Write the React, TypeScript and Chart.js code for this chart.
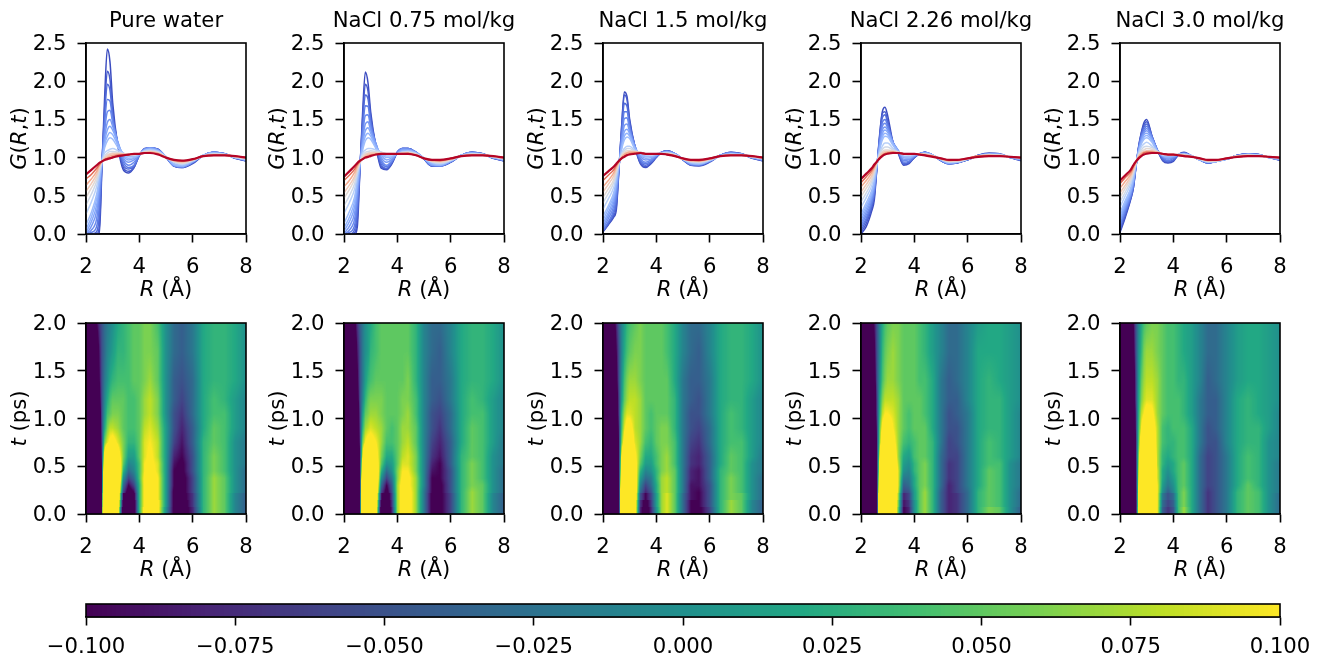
import React, { useEffect, useRef } from "react";
import { Chart, registerables } from "chart.js";

Chart.register(...registerables);

const FONT = '"DejaVu Sans"';
const FS = 21.2;

const panelTitles = ["Pure water", "NaCl 0.75 mol/kg", "NaCl 1.5 mol/kg", "NaCl 2.26 mol/kg", "NaCl 3.0 mol/kg"];
const rGrid = [2.0, 2.2, 2.4, 2.5, 2.6, 2.7, 2.8, 2.9, 3.0, 3.2, 3.4, 3.6, 3.8, 4.0, 4.2, 4.4, 4.7, 5.0, 5.3, 5.6, 6.0, 6.4, 6.8, 7.2, 7.6, 8.0];
const tGrid = [0, 0.075, 0.15, 0.225, 0.3, 0.375, 0.45, 0.525, 0.6, 0.75, 0.9, 1.05, 1.2, 1.4, 1.7, 2.0];
const rTicks = [2, 4, 6, 8];
const gTicks = [0, 0.5, 1, 1.5, 2, 2.5];
const tTicks = [0, 0.5, 1, 1.5, 2];
const barTicks = [-0.1, -0.075, -0.05, -0.025, 0, 0.025, 0.05, 0.075, 0.1];

// G(R,t): one row per time in tGrid, one column per distance in rGrid
const gWater = [
  [0,0,0,0,.9,1.8,2.42,2.25,1.72,1.14,.84,.8,.87,1.03,1.12,1.13,1.11,1,.89,.87,.92,1.03,1.07,1.05,.99,.96],
  [0,0,0,.1,.92,1.65,2.13,2.02,1.6,1.16,.87,.82,.87,1.03,1.11,1.13,1.11,1.01,.89,.87,.93,1.03,1.07,1.05,.99,.96],
  [0,0,.03,.25,.93,1.55,1.96,1.88,1.55,1.17,.9,.85,.89,1.03,1.11,1.13,1.1,1.01,.89,.88,.93,1.03,1.07,1.05,.99,.96],
  [0,.02,.1,.38,.93,1.45,1.76,1.74,1.5,1.18,.94,.87,.9,1.03,1.11,1.13,1.1,1.01,.89,.88,.94,1.03,1.07,1.05,1,.97],
  [0,.05,.2,.5,.94,1.35,1.6,1.62,1.46,1.19,.97,.9,.94,1.03,1.11,1.13,1.1,1.01,.9,.88,.94,1.03,1.07,1.05,1,.97],
  [0,.1,.3,.58,.94,1.27,1.46,1.5,1.41,1.2,1,.94,.97,1.04,1.11,1.13,1.1,1.01,.9,.88,.94,1.03,1.07,1.05,1,.97],
  [.02,.16,.38,.64,.95,1.21,1.36,1.41,1.36,1.19,1.03,.97,.99,1.04,1.1,1.12,1.09,1.01,.9,.89,.95,1.03,1.06,1.04,1,.97],
  [.06,.22,.46,.69,.95,1.17,1.28,1.33,1.3,1.16,1.05,.99,1,1.04,1.1,1.11,1.09,1.01,.91,.89,.95,1.03,1.06,1.04,1,.98],
  [.12,.28,.52,.73,.95,1.13,1.22,1.26,1.24,1.13,1.06,1.01,1.01,1.05,1.09,1.11,1.08,1.01,.92,.9,.95,1.03,1.06,1.04,1,.98],
  [.26,.42,.62,.79,.95,1.06,1.09,1.11,1.12,1.09,1.06,1.03,1.03,1.05,1.09,1.1,1.08,1.01,.94,.91,.96,1.03,1.05,1.04,1,.98],
  [.38,.52,.69,.83,.95,1.02,1.06,1.08,1.08,1.07,1.05,1.04,1.04,1.05,1.08,1.09,1.07,1.01,.95,.92,.96,1.02,1.05,1.04,1.01,.99],
  [.48,.6,.74,.86,.95,1,1.04,1.05,1.06,1.06,1.05,1.04,1.04,1.05,1.07,1.08,1.06,1,.95,.93,.97,1.02,1.04,1.04,1.01,.99],
  [.56,.66,.78,.88,.95,.99,1.02,1.04,1.05,1.05,1.05,1.04,1.04,1.05,1.07,1.08,1.06,1,.96,.94,.97,1.02,1.04,1.03,1.01,.99],
  [.64,.72,.82,.9,.95,.98,1,1.02,1.03,1.04,1.04,1.04,1.05,1.05,1.06,1.07,1.05,1,.96,.95,.97,1.02,1.03,1.03,1.02,1],
  [.72,.78,.86,.91,.95,.97,.99,1,1.01,1.03,1.03,1.04,1.05,1.05,1.06,1.06,1.05,1,.97,.96,.98,1.02,1.03,1.03,1.02,1],
  [.78,.84,.9,.93,.95,.97,.98,.99,1,1.02,1.03,1.04,1.05,1.05,1.06,1.06,1.04,1,.97,.96,.98,1.02,1.03,1.03,1.02,1],
];
const gNaCl075 = [
  [0,0,0,.1,.85,1.6,2.12,1.98,1.6,1.14,.86,.84,.92,1.07,1.12,1.12,1.07,.98,.89,.89,.94,1.03,1.07,1.05,.99,.96],
  [0,0,.02,.2,.87,1.52,1.96,1.87,1.54,1.15,.88,.85,.93,1.07,1.12,1.12,1.07,.98,.89,.89,.94,1.03,1.07,1.05,.99,.96],
  [0,0,.06,.3,.88,1.44,1.82,1.77,1.49,1.16,.91,.86,.94,1.07,1.12,1.12,1.07,.98,.89,.89,.94,1.03,1.07,1.05,.99,.96],
  [0,.02,.12,.4,.89,1.36,1.68,1.67,1.44,1.17,.94,.88,.95,1.07,1.12,1.12,1.07,.98,.9,.89,.95,1.03,1.07,1.05,1,.97],
  [0,.05,.2,.48,.9,1.29,1.55,1.56,1.4,1.18,.97,.9,.96,1.07,1.12,1.11,1.07,.99,.9,.89,.95,1.03,1.06,1.05,1,.97],
  [.01,.1,.28,.56,.91,1.23,1.44,1.47,1.36,1.18,1,.94,.98,1.06,1.11,1.11,1.07,.99,.9,.9,.95,1.03,1.06,1.04,1,.97],
  [.04,.16,.36,.62,.92,1.18,1.35,1.39,1.32,1.16,1.03,.97,1,1.06,1.1,1.1,1.06,.99,.91,.9,.95,1.03,1.06,1.04,1,.97],
  [.08,.22,.43,.67,.93,1.14,1.28,1.32,1.28,1.14,1.05,1,1.01,1.05,1.09,1.09,1.06,.99,.92,.9,.96,1.03,1.06,1.04,1,.98],
  [.14,.29,.49,.71,.93,1.1,1.22,1.26,1.24,1.12,1.06,1.02,1.02,1.05,1.08,1.09,1.06,.99,.93,.91,.96,1.03,1.05,1.04,1,.98],
  [.27,.41,.59,.77,.94,1.06,1.1,1.12,1.12,1.1,1.07,1.04,1.04,1.05,1.07,1.08,1.05,.99,.94,.92,.96,1.02,1.05,1.04,1.01,.98],
  [.37,.5,.66,.81,.94,1.03,1.07,1.08,1.09,1.08,1.07,1.05,1.04,1.05,1.07,1.07,1.05,.99,.95,.93,.97,1.02,1.05,1.04,1.01,.99],
  [.47,.58,.72,.84,.94,1.01,1.05,1.06,1.07,1.07,1.06,1.05,1.05,1.05,1.06,1.07,1.04,.99,.95,.94,.97,1.02,1.04,1.04,1.01,.99],
  [.54,.64,.76,.87,.95,.99,1.03,1.05,1.06,1.06,1.06,1.05,1.05,1.05,1.06,1.06,1.04,.99,.96,.95,.98,1.02,1.04,1.03,1.01,.99],
  [.62,.7,.81,.89,.95,.98,1.01,1.03,1.04,1.05,1.05,1.05,1.05,1.05,1.05,1.06,1.03,.99,.96,.96,.98,1.02,1.03,1.03,1.02,1],
  [.7,.77,.85,.91,.95,.98,1,1.01,1.03,1.04,1.05,1.05,1.05,1.05,1.05,1.05,1.03,.99,.97,.96,.99,1.02,1.03,1.03,1.02,1],
  [.75,.82,.89,.93,.96,.98,1,1.01,1.02,1.04,1.05,1.05,1.05,1.05,1.05,1.05,1.03,.99,.97,.97,.99,1.02,1.03,1.03,1.02,1],
];
const gNaCl15 = [
  [.03,.12,.22,.32,.85,1.42,1.86,1.8,1.5,1.14,.92,.87,.92,1,1.07,1.09,1.05,.97,.9,.89,.94,1.03,1.07,1.05,.99,.96],
  [.03,.13,.24,.36,.86,1.4,1.82,1.76,1.47,1.14,.93,.88,.93,1.01,1.07,1.09,1.05,.97,.9,.9,.95,1.03,1.07,1.05,.99,.96],
  [.04,.14,.27,.42,.87,1.34,1.71,1.67,1.43,1.15,.95,.9,.94,1.01,1.07,1.09,1.05,.97,.91,.9,.95,1.03,1.06,1.05,1,.97],
  [.05,.16,.31,.48,.88,1.29,1.6,1.6,1.4,1.15,.97,.92,.95,1.02,1.07,1.08,1.05,.98,.91,.9,.95,1.03,1.06,1.04,1,.97],
  [.07,.2,.36,.54,.89,1.24,1.51,1.52,1.37,1.15,.99,.94,.97,1.02,1.07,1.08,1.05,.98,.91,.91,.95,1.03,1.06,1.04,1,.97],
  [.1,.24,.41,.59,.9,1.2,1.42,1.44,1.34,1.14,1.01,.97,.98,1.03,1.07,1.08,1.05,.98,.92,.91,.96,1.03,1.06,1.04,1,.97],
  [.14,.28,.46,.64,.91,1.16,1.34,1.37,1.31,1.13,1.03,.99,1,1.03,1.06,1.07,1.05,.98,.92,.91,.96,1.03,1.05,1.04,1,.98],
  [.18,.33,.5,.68,.92,1.13,1.28,1.32,1.28,1.12,1.05,1.01,1.01,1.04,1.06,1.07,1.04,.98,.93,.92,.96,1.02,1.05,1.04,1,.98],
  [.23,.37,.54,.71,.92,1.11,1.23,1.27,1.25,1.11,1.06,1.02,1.02,1.04,1.06,1.07,1.04,.98,.93,.92,.96,1.02,1.05,1.04,1.01,.98],
  [.33,.46,.61,.76,.93,1.06,1.12,1.15,1.15,1.09,1.07,1.04,1.03,1.05,1.06,1.06,1.04,.98,.94,.93,.97,1.02,1.04,1.04,1.01,.99],
  [.41,.53,.67,.8,.93,1.04,1.09,1.12,1.12,1.08,1.07,1.05,1.04,1.05,1.06,1.06,1.03,.98,.95,.94,.97,1.02,1.04,1.03,1.01,.99],
  [.48,.59,.71,.83,.94,1.03,1.07,1.09,1.09,1.08,1.07,1.05,1.04,1.05,1.05,1.05,1.03,.98,.95,.95,.98,1.02,1.04,1.03,1.01,.99],
  [.55,.65,.76,.86,.94,1.01,1.05,1.07,1.08,1.08,1.07,1.05,1.05,1.05,1.05,1.05,1.03,.98,.96,.95,.98,1.02,1.03,1.03,1.01,.99],
  [.62,.7,.8,.88,.95,1,1.04,1.06,1.07,1.07,1.06,1.05,1.05,1.05,1.05,1.05,1.02,.98,.96,.96,.98,1.02,1.03,1.03,1.02,1],
  [.7,.77,.84,.9,.95,.99,1.02,1.04,1.05,1.06,1.06,1.05,1.05,1.05,1.05,1.04,1.02,.99,.97,.96,.99,1.02,1.03,1.03,1.02,1],
  [.76,.82,.88,.92,.96,.99,1.01,1.03,1.04,1.05,1.06,1.05,1.05,1.05,1.05,1.04,1.02,.99,.97,.97,.99,1.02,1.03,1.03,1.02,1],
];
const gNaCl226 = [
  [0,.1,.3,.45,.88,1.3,1.6,1.66,1.55,1.2,1.05,.9,.92,1,1.05,1.07,1.03,.96,.92,.93,.97,1.03,1.06,1.05,1,.96],
  [.02,.14,.34,.5,.88,1.28,1.58,1.6,1.48,1.2,1.06,.91,.93,1,1.05,1.07,1.03,.96,.92,.93,.97,1.03,1.05,1.04,1,.97],
  [.05,.18,.37,.53,.89,1.26,1.52,1.56,1.45,1.2,1.07,.92,.94,1.01,1.05,1.07,1.03,.96,.92,.93,.97,1.03,1.05,1.04,1,.97],
  [.08,.21,.4,.56,.9,1.23,1.46,1.5,1.42,1.2,1.08,.94,.95,1.01,1.05,1.07,1.03,.96,.92,.94,.97,1.03,1.05,1.04,1,.97],
  [.11,.25,.43,.59,.9,1.2,1.41,1.45,1.39,1.2,1.09,.96,.97,1.02,1.05,1.06,1.03,.97,.92,.94,.98,1.02,1.05,1.04,1,.98],
  [.14,.29,.47,.62,.91,1.17,1.36,1.4,1.36,1.2,1.09,.98,.98,1.02,1.05,1.06,1.03,.97,.93,.94,.98,1.02,1.05,1.04,1,.98],
  [.18,.33,.5,.65,.91,1.14,1.31,1.36,1.33,1.19,1.09,1,.99,1.03,1.05,1.06,1.03,.97,.93,.94,.98,1.02,1.05,1.04,1,.98],
  [.22,.37,.53,.68,.92,1.12,1.27,1.32,1.3,1.18,1.08,1.01,1,1.03,1.05,1.06,1.03,.97,.93,.94,.98,1.02,1.04,1.04,1,.98],
  [.26,.41,.57,.71,.92,1.1,1.23,1.28,1.27,1.16,1.07,1.02,1.01,1.04,1.05,1.05,1.03,.97,.94,.94,.98,1.02,1.04,1.03,1.01,.99],
  [.35,.48,.63,.76,.93,1.06,1.15,1.19,1.19,1.12,1.07,1.04,1.03,1.04,1.05,1.05,1.03,.98,.94,.95,.98,1.02,1.04,1.03,1.01,.99],
  [.42,.54,.68,.8,.93,1.05,1.11,1.14,1.14,1.1,1.07,1.05,1.04,1.05,1.05,1.05,1.02,.98,.95,.95,.98,1.02,1.03,1.03,1.01,.99],
  [.49,.6,.72,.83,.94,1.03,1.08,1.1,1.1,1.09,1.07,1.05,1.04,1.05,1.05,1.04,1.02,.98,.95,.96,.98,1.02,1.03,1.03,1.01,.99],
  [.55,.65,.76,.85,.94,1.02,1.06,1.08,1.08,1.08,1.07,1.05,1.05,1.05,1.05,1.04,1.02,.98,.96,.96,.99,1.02,1.03,1.03,1.01,1],
  [.62,.7,.8,.87,.95,1,1.04,1.06,1.07,1.07,1.06,1.05,1.05,1.05,1.04,1.04,1.02,.98,.96,.97,.99,1.02,1.03,1.02,1.01,1],
  [.67,.75,.83,.89,.95,.99,1.03,1.05,1.06,1.07,1.06,1.05,1.05,1.05,1.04,1.03,1.01,.99,.97,.97,.99,1.02,1.02,1.02,1.01,1],
  [.72,.79,.86,.91,.95,.99,1.02,1.04,1.05,1.06,1.06,1.05,1.05,1.05,1.04,1.03,1.01,.99,.97,.97,.99,1.01,1.02,1.02,1.01,1],
];
const gNaCl30 = [
  [.02,.22,.45,.6,.88,1.15,1.33,1.46,1.5,1.28,1.1,.96,.93,.95,1.04,1.07,1.02,.97,.93,.95,.98,1.03,1.05,1.04,1,.97],
  [.04,.24,.46,.6,.88,1.14,1.32,1.43,1.47,1.28,1.1,.97,.94,.96,1.04,1.06,1.02,.97,.93,.95,.98,1.03,1.05,1.04,1,.97],
  [.07,.27,.48,.62,.89,1.13,1.3,1.4,1.44,1.27,1.1,.98,.95,.97,1.04,1.06,1.02,.97,.93,.95,.98,1.03,1.05,1.04,1,.97],
  [.1,.29,.49,.63,.89,1.12,1.28,1.37,1.41,1.27,1.1,1,.96,.99,1.04,1.06,1.02,.97,.93,.95,.98,1.03,1.05,1.04,1,.98],
  [.13,.32,.51,.65,.9,1.11,1.26,1.34,1.38,1.26,1.1,1.01,.98,1,1.04,1.05,1.02,.97,.94,.95,.98,1.02,1.05,1.03,1,.98],
  [.17,.35,.53,.67,.9,1.1,1.24,1.32,1.35,1.25,1.09,1.02,.99,1.01,1.04,1.05,1.02,.97,.94,.95,.98,1.02,1.04,1.03,1,.98],
  [.2,.38,.55,.69,.91,1.09,1.22,1.3,1.32,1.24,1.09,1.02,1,1.02,1.04,1.05,1.02,.97,.94,.95,.98,1.02,1.04,1.03,1,.98],
  [.24,.41,.58,.71,.91,1.08,1.2,1.27,1.29,1.22,1.08,1.03,1.01,1.02,1.04,1.05,1.02,.97,.94,.95,.98,1.02,1.04,1.03,1,.98],
  [.28,.44,.6,.73,.92,1.07,1.18,1.24,1.26,1.2,1.08,1.03,1.02,1.03,1.04,1.04,1.02,.97,.94,.95,.98,1.02,1.04,1.03,1,.99],
  [.35,.5,.65,.77,.92,1.05,1.14,1.18,1.2,1.15,1.08,1.04,1.03,1.03,1.04,1.04,1.02,.98,.95,.95,.99,1.02,1.03,1.03,1,.99],
  [.42,.55,.69,.8,.93,1.04,1.1,1.14,1.15,1.13,1.08,1.04,1.03,1.04,1.04,1.04,1.02,.98,.95,.96,.99,1.02,1.03,1.03,1.01,.99],
  [.48,.6,.72,.82,.93,1.03,1.08,1.1,1.12,1.11,1.07,1.05,1.04,1.04,1.04,1.03,1.01,.98,.96,.96,.99,1.02,1.03,1.02,1.01,.99],
  [.54,.64,.75,.84,.94,1.02,1.06,1.08,1.09,1.09,1.07,1.05,1.04,1.04,1.04,1.03,1.01,.98,.96,.96,.99,1.02,1.03,1.02,1.01,1],
  [.6,.69,.78,.86,.94,1.01,1.05,1.07,1.08,1.08,1.07,1.05,1.04,1.04,1.03,1.03,1.01,.99,.96,.97,.99,1.01,1.02,1.02,1.01,1],
  [.66,.74,.81,.88,.95,1,1.03,1.06,1.07,1.07,1.06,1.05,1.04,1.04,1.03,1.02,1.01,.99,.97,.97,.99,1.01,1.02,1.02,1.01,1],
  [.7,.77,.84,.9,.95,.99,1.02,1.04,1.05,1.06,1.06,1.05,1.04,1.04,1.03,1.02,1.01,.99,.97,.97,.99,1.01,1.02,1.02,1.01,1],
];
const panelTables = [gWater, gNaCl075, gNaCl15, gNaCl226, gNaCl30];

const viridisStops = [[68,1,84],[72,36,117],[65,68,135],[53,95,141],[42,120,142],[33,144,141],[34,168,132],[68,191,112],[122,209,81],[189,223,38],[253,231,37]];
const coolwarmStops = [[59,76,192],[98,130,234],[141,176,254],[184,208,249],[221,221,221],[245,196,173],[244,154,123],[222,96,77],[180,4,38]];

// layout
const panelLefts = [86, 344, 603, 861, 1120];
const PLOT_W = 160;
const CANVAS_W = 280;
const CANVAS_H = 300;
const LEFT = 86;
const PLOT_TOP = 43;
const PLOT_H = 191;
const ROW_TOPS = [0, 280];
const SPINE = 1.6;
const TICK = 8.5;
const Y_LABEL_SHIFT = 1.5;

const sample = (stops: number[][], f: number) => {
  const p = Math.min(Math.max(f, 0), 1) * (stops.length - 1);
  const i = Math.min(Math.floor(p), stops.length - 2);
  const k = p - i;
  const c = stops[i].map((v, j) => Math.round(v + (stops[i + 1][j] - v) * k));
  return `rgb(${c[0]},${c[1]},${c[2]})`;
};
const VIRIDIS_LUT = Array.from({ length: 256 }, (_, i) => sample(viridisStops, i / 255));
const heatColour = (v: number) => VIRIDIS_LUT[Math.round((Math.min(Math.max(v, -0.1), 0.1) + 0.1) / 0.2 * 255)];

type Seg = [string, boolean];
const drawSegs = (ctx: any, segs: Seg[], x: number, y: number, rot: number) => {
  ctx.save();
  ctx.translate(x, y);
  ctx.rotate(rot);
  ctx.fillStyle = "#000";
  ctx.textBaseline = "alphabetic";
  ctx.textAlign = "left";
  const fontOf = (it: boolean) => `${it ? "italic " : ""}${FS}px ${FONT}`;
  let total = 0;
  segs.forEach(([s, it]) => { ctx.font = fontOf(it); total += ctx.measureText(s).width; });
  let p = -total / 2;
  segs.forEach(([s, it]) => { ctx.font = fontOf(it); ctx.fillText(s, p, 0); p += ctx.measureText(s).width; });
  ctx.restore();
};

const X_LABEL: Seg[] = [["R", true], [" (Å)", false]];
const Y_LABEL_G: Seg[] = [["G", true], ["(", false], ["R", true], [",", false], ["t", true], [")", false]];
const Y_LABEL_T: Seg[] = [["t", true], [" (ps)", false]];

const framePlugin = (yLabel: Seg[], title: string | null) => ({
  id: "frame",
  beforeDraw(chart: any) {
    chart.scales.y.getLabelItems(chart.chartArea).forEach((item: any) => {
      item.options.translation[1] += Y_LABEL_SHIFT;
    });
  },
  afterDraw(chart: any) {
    const { ctx, chartArea: a } = chart;
    ctx.save();
    ctx.strokeStyle = "#000";
    ctx.lineWidth = SPINE;
    ctx.strokeRect(a.left, a.top, a.right - a.left, a.bottom - a.top);
    ctx.restore();
    drawSegs(ctx, X_LABEL, (a.left + a.right) / 2, a.bottom + 61.5, 0);
    drawSegs(ctx, yLabel, 26, (a.top + a.bottom) / 2, -Math.PI / 2);
    if (title) {
      ctx.save();
      ctx.fillStyle = "#000";
      ctx.font = `${FS}px ${FONT}`;
      ctx.textAlign = "center";
      ctx.textBaseline = "alphabetic";
      ctx.fillText(title, (a.left + a.right) / 2, 27);
      ctx.restore();
    }
  },
});

const heatPlugin = (table: number[][]) => ({
  id: "heat",
  beforeDatasetsDraw(chart: any) {
    const { ctx, chartArea: a, scales } = chart;
    const locate = (grid: number[], v: number) => {
      let i = 0;
      while (i < grid.length - 2 && v >= grid[i + 1]) i++;
      return i;
    };
    const x0 = Math.floor(a.left), x1 = Math.ceil(a.right);
    const y0 = Math.floor(a.top), y1 = Math.ceil(a.bottom);
    for (let py = y0; py < y1; py++) {
      const t = Math.min(Math.max(scales.y.getValueForPixel(py + 0.5), 0), 2);
      const ti = locate(tGrid, t);
      const tf = tGrid[ti] < 0.225 ? 0 : (t - tGrid[ti]) / (tGrid[ti + 1] - tGrid[ti]);
      for (let px = x0; px < x1; px++) {
        const r = Math.min(Math.max(scales.x.getValueForPixel(px + 0.5), 2), 8);
        const ri = locate(rGrid, r);
        const rf = (r - rGrid[ri]) / (rGrid[ri + 1] - rGrid[ri]);
        const low = table[ti][ri] + (table[ti][ri + 1] - table[ti][ri]) * rf;
        const high = table[ti + 1][ri] + (table[ti + 1][ri + 1] - table[ti + 1][ri]) * rf;
        ctx.fillStyle = heatColour(low + (high - low) * tf - 1);
        ctx.fillRect(px, py, 1, 1);
      }
    }
  },
});

const barPlugin = {
  id: "colourbar",
  beforeDatasetsDraw(chart: any) {
    const { ctx, chartArea: a, scales } = chart;
    for (let px = Math.floor(a.left); px < Math.ceil(a.right); px++) {
      ctx.fillStyle = heatColour(scales.x.getValueForPixel(px + 0.5));
      ctx.fillRect(px, a.top, 1, a.bottom - a.top);
    }
  },
  afterDraw(chart: any) {
    const { ctx, chartArea: a } = chart;
    ctx.save();
    ctx.strokeStyle = "#000";
    ctx.lineWidth = SPINE;
    ctx.strokeRect(a.left, a.top, a.right - a.left, a.bottom - a.top);
    ctx.restore();
  },
};

const axis = (min: number, max: number, ticks: number[], fmt: (v: number) => string, fit: (s: any) => void, padding: number, extra: any = {}) => ({
  type: "linear",
  min,
  max,
  afterBuildTicks: (s: any) => { s.ticks = ticks.map((value) => ({ value })); },
  afterFit: fit,
  border: { color: "#000", width: SPINE },
  grid: { drawOnChartArea: false, drawTicks: true, tickLength: TICK, tickColor: "#000", tickWidth: SPINE },
  ticks: { color: "#000", font: { family: FONT, size: FS }, padding, maxRotation: 0, autoSkip: false, callback: (v: number) => fmt(v) },
  ...extra,
});

const fmt1 = (v: number) => v.toFixed(1);
const fmtInt = (v: number) => String(v);
const fmtBar = (v: number) => (v < 0 ? "\u2212" : "") + Math.abs(v).toFixed(3);

const panelScales = (yMax: number, yTicks: number[]) => ({
  x: axis(2, 8, rTicks, fmtInt, (s) => { s.height = CANVAS_H - PLOT_TOP - PLOT_H; }, 12),
  y: axis(0, yMax, yTicks, fmt1, (s) => { s.width = LEFT; }, 11),
});

const commonOptions = {
  responsive: false,
  animation: false as const,
  events: [] as string[],
  layout: { padding: { left: 0, top: PLOT_TOP, right: CANVAS_W - LEFT - PLOT_W, bottom: 0 } },
  plugins: { legend: { display: false }, tooltip: { enabled: false }, title: { display: false } },
};

export default function App() {
  const host = useRef<HTMLDivElement>(null);
  useEffect(() => {
    const el = host.current!;
    const charts: Chart[] = [];
    const addCanvas = (left: number, top: number, w: number, h: number) => {
      const c = document.createElement("canvas");
      c.width = w;
      c.height = h;
      c.style.cssText = `position:absolute;left:${left}px;top:${top}px;width:${w}px;height:${h}px;display:block`;
      el.appendChild(c);
      return c;
    };
    panelTables.forEach((table, p) => {
      const left = panelLefts[p] - LEFT;
      charts.push(new Chart(addCanvas(left, ROW_TOPS[0], CANVAS_W, CANVAS_H), {
        type: "line",
        data: {
          datasets: table.map((row, i) => ({
            label: `t = ${tGrid[i]} ps`,
            data: row.map((y, j) => ({ x: rGrid[j], y })),
            borderColor: sample(coolwarmStops, tGrid[i] / 2),
            borderWidth: i === table.length - 1 ? 2.2 : 1.5,
            pointRadius: 0,
            cubicInterpolationMode: "monotone",
            order: table.length - i,
          })),
        },
        options: { ...commonOptions, scales: panelScales(2.5, gTicks) } as any,
        plugins: [framePlugin(Y_LABEL_G, panelTitles[p])],
      } as any));
      charts.push(new Chart(addCanvas(left, ROW_TOPS[1], CANVAS_W, CANVAS_H), {
        type: "scatter",
        data: {
          datasets: [{
            label: panelTitles[p],
            data: table.flatMap((row, i) => row.map((g, j) => ({ x: rGrid[j], y: tGrid[i], v: g - 1 }))),
            pointRadius: 0,
          }],
        },
        options: { ...commonOptions, scales: panelScales(2, tTicks) } as any,
        plugins: [heatPlugin(table), framePlugin(Y_LABEL_T, null)],
      } as any));
    });
    charts.push(new Chart(addCanvas(0, 570, 1322, 86), {
      type: "scatter",
      data: { datasets: [{ label: "colour scale", data: barTicks.map((x) => ({ x, y: 0 })), pointRadius: 0 }] },
      options: {
        ...commonOptions,
        layout: { padding: { left: LEFT, top: 34, right: 1322 - 1280, bottom: 0 } },
        scales: {
          x: axis(-0.1, 0.1, barTicks, fmtBar, (s) => { s.height = 39; }, 9),
          y: { display: false, min: -1, max: 1 },
        },
      } as any,
      plugins: [barPlugin],
    } as any));
    return () => {
      charts.forEach((c) => c.destroy());
      el.innerHTML = "";
    };
  }, []);
  return <div ref={host} style={{ position: "absolute", left: 0, top: 0, width: 1322, height: 656, overflow: "hidden", background: "#fff" }} />;
}
